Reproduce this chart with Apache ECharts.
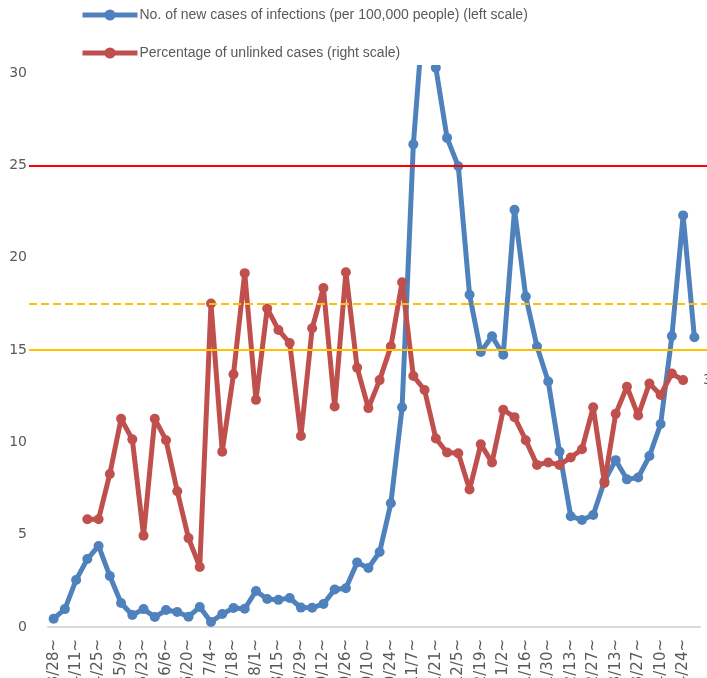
<!DOCTYPE html>
<html>
<head>
<meta charset="utf-8">
<script src="https://cdn.jsdelivr.net/npm/echarts@6/dist/echarts.min.js"></script>
<style>
  html, body { margin: 0; padding: 0; background: #fff; }
  #main { width: 707px; height: 678px; }
</style>
</head>
<body>
<div id="main"></div>
<script>
// weekly periods (start dates)
const weeks = [
  '3/28~', '4/4~', '4/11~', '4/18~', '4/25~', '5/2~', '5/9~', '5/16~', '5/23~', '5/30~',
  '6/6~', '6/13~', '6/20~', '6/27~', '7/4~', '7/11~', '7/18~', '7/25~', '8/1~', '8/8~',
  '8/15~', '8/22~', '8/29~', '9/5~', '9/12~', '9/19~', '9/26~', '10/3~', '10/10~', '10/17~',
  '10/24~', '10/31~', '11/7~', '11/14~', '11/21~', '11/28~', '12/5~', '12/12~', '12/19~', '12/26~',
  '1/2~', '1/9~', '1/16~', '1/23~', '1/30~', '2/6~', '2/13~', '2/20~', '2/27~', '3/6~',
  '3/13~', '3/20~', '3/27~', '4/3~', '4/10~', '4/17~', '4/24~', '5/1~'
];

// new cases per 100,000 people (left scale)
const newCases = [
  0.45, 0.97, 2.55, 3.68, 4.39, 2.76, 1.3, 0.65, 0.97, 0.54,
  0.92, 0.81, 0.56, 1.08, 0.27, 0.7, 1.03, 0.99, 1.95, 1.52,
  1.47, 1.57, 1.05, 1.04, 1.25, 2.03, 2.1, 3.5, 3.2, 4.06,
  6.7, 11.9, 26.15, 34, 30.3, 26.5, 24.96, 18.0, 14.9, 15.75,
  14.75, 22.6, 17.9, 15.2, 13.3, 9.5, 6.0, 5.8, 6.07, 7.9,
  9.04, 8.0, 8.1, 9.26, 11.0, 15.76, 22.3, 15.7
];

// percentage of unlinked cases (right scale)
const unlinkedPct = [
  null, null, null, 13.1, 13.1, 18.6, 25.3, 22.8, 11.1, 25.3,
  22.7, 16.5, 10.8, 7.3, 39.3, 21.3, 30.7, 43.0, 27.6, 38.7,
  36.1, 34.5, 23.2, 36.3, 41.2, 26.8, 43.1, 31.5, 26.6, 30.0,
  34.1, 41.9, 30.5, 28.8, 22.9, 21.2, 21.1, 16.7, 22.2, 20.0,
  26.4, 25.5, 22.7, 19.7, 20.0, 19.7, 20.6, 21.6, 26.7, 17.5,
  25.9, 29.2, 25.7, 29.6, 28.2, 30.8, 30.0, null
];

// reference levels on the left scale
const refLines = [
  { value: 25, color: '#FF0000', type: 'solid' },
  { value: 17.5, color: '#FFC000', type: 'dashed' },
  { value: 15, color: '#FFC000', type: 'solid' }
];

const chart = echarts.init(document.getElementById('main'));

const grey = '#595959';

const option = {
  animation: false,
  backgroundColor: '#fff',
  grid: [
    { left: 48, right: 7, top: -19, bottom: 51, outerBoundsMode: 'none', containLabel: false },
    { left: 29, right: 0, top: -19, bottom: 51, outerBoundsMode: 'none', containLabel: false }
  ],
  legend: {
    orient: 'vertical',
    left: 80,
    top: 8,
    padding: 0,
    itemWidth: 55,
    itemHeight: 14,
    itemGap: 24,
    z: 10,
    lineStyle: { width: 5 },
    textStyle: { color: grey, fontSize: 14, fontFamily: 'Liberation Sans, Arial, sans-serif', padding: [0, 0, 0, -3] },
    data: [
      'No. of new cases of infections (per 100,000 people) (left scale)',
      'Percentage of unlinked cases (right scale)'
    ]
  },
  graphic: [
    {
      type: 'rect',
      z: 5,
      silent: true,
      shape: { x: 0, y: -30, width: 707, height: 95 },
      style: { fill: '#fff' }
    }
  ],
  xAxis: [
    {
      type: 'category',
      gridIndex: 0,
      data: weeks,
      boundaryGap: true,
      axisLine: { lineStyle: { color: '#D9D9D9', width: 2 } },
      axisTick: { show: false },
      axisLabel: {
        interval: 1,
        rotate: 90,
        margin: 12,
        color: grey,
        fontSize: 15,
        fontFamily: 'DejaVu Sans, sans-serif'
      }
    },
    {
      type: 'value',
      gridIndex: 1,
      min: 0,
      max: 1,
      show: false
    }
  ],
  yAxis: [
    {
      type: 'value',
      gridIndex: 0,
      min: 0,
      max: 35,
      interval: 5,
      axisLine: { show: false },
      axisTick: { show: false },
      splitLine: { show: false },
      axisLabel: {
        margin: 21,
        color: grey,
        fontSize: 14,
        fontFamily: 'DejaVu Sans, sans-serif'
      }
    },
    {
      type: 'value',
      gridIndex: 0,
      position: 'right',
      min: 0,
      max: 78.5,
      interval: 30,
      axisLine: { show: false },
      axisTick: { show: false },
      splitLine: { show: false },
      axisLabel: {
        margin: 3,
        color: grey,
        fontSize: 14,
        fontFamily: 'DejaVu Sans, sans-serif',
        formatter: function (v) { return v === 30 ? '30%' : ''; }
      }
    },
    {
      type: 'value',
      gridIndex: 1,
      min: 0,
      max: 35,
      show: false
    }
  ],
  series: [
    {
      name: 'reference',
      type: 'line',
      xAxisIndex: 1,
      yAxisIndex: 2,
      data: [],
      silent: true,
      z: 1,
      markLine: {
        silent: true,
        symbol: 'none',
        label: { show: false },
        data: refLines.map(function (r) {
          return { yAxis: r.value, lineStyle: { color: r.color, width: 2, type: r.type } };
        })
      }
    },
    {
      name: 'No. of new cases of infections (per 100,000 people) (left scale)',
      type: 'line',
      xAxisIndex: 0,
      yAxisIndex: 0,
      data: newCases,
      symbol: 'circle',
      symbolSize: 10,
      showAllSymbol: true,
      z: 3,
      itemStyle: { color: '#4F81BD' },
      lineStyle: { color: '#4F81BD', width: 5 }
    },
    {
      name: 'Percentage of unlinked cases (right scale)',
      type: 'line',
      xAxisIndex: 0,
      yAxisIndex: 1,
      data: unlinkedPct,
      symbol: 'circle',
      symbolSize: 10,
      showAllSymbol: true,
      z: 4,
      itemStyle: { color: '#C0504D' },
      lineStyle: { color: '#C0504D', width: 5 }
    }
  ]
};

chart.setOption(option);
</script>
</body>
</html>
